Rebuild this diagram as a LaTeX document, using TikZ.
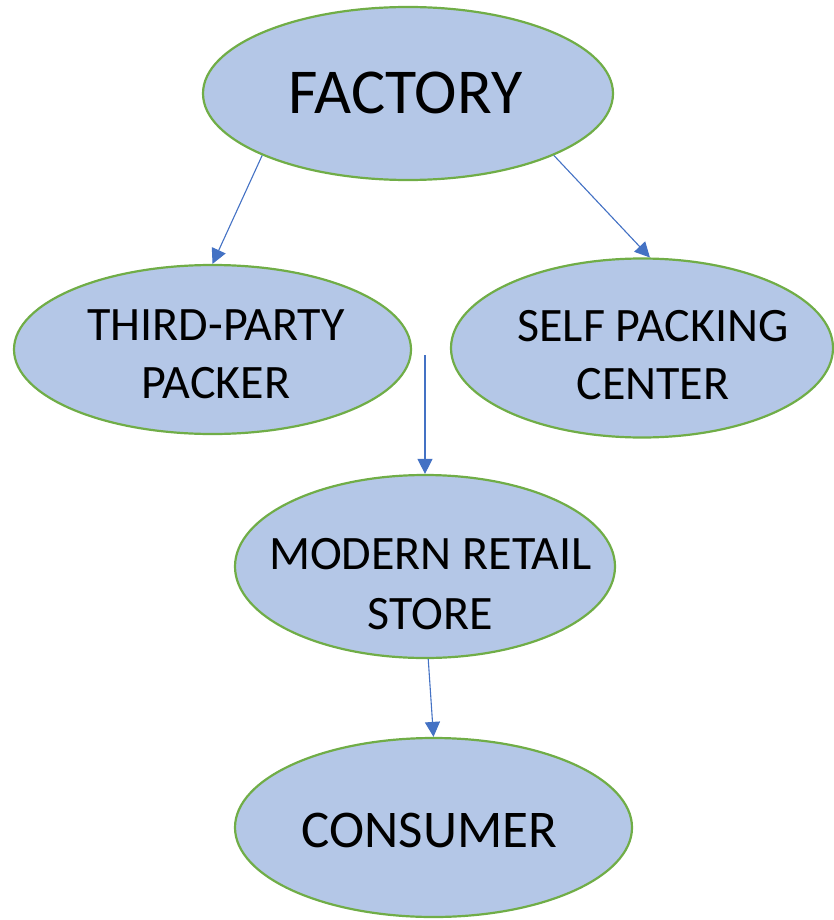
\documentclass[tikz,border=0pt]{standalone}
\usepackage{fontspec}
\setmainfont{Carlito}
\usetikzlibrary{shapes.geometric,arrows.meta}
\definecolor{efill}{HTML}{B4C7E7}
\definecolor{eborder}{HTML}{70AD47}
\definecolor{arrowc}{HTML}{4472C4}
\begin{document}
\begin{tikzpicture}[x=1pt,y=-1pt,
  oval/.style={ellipse,draw=eborder,fill=efill,line width=2.2pt,inner sep=0pt},
  txt/.style={inner sep=0pt,align=center,font=\fontsize{48}{58}\selectfont},
  conn/.style={draw=arrowc,line width=1.1pt,-{Triangle[length=15pt,width=15pt]}}]
\useasboundingbox (0,0) rectangle (833,920);
\node[oval,minimum width=410pt,minimum height=173pt] (factory) at (408,93.5) {};
\node[oval,minimum width=397pt,minimum height=169pt] (third) at (212.5,349.5) {};
\node[oval,minimum width=382pt,minimum height=179pt] (self) at (642,348) {};
\node[oval,minimum width=380pt,minimum height=183pt] (modern) at (425,566.5) {};
\node[oval,minimum width=397pt,minimum height=179pt] (consumer) at (433.5,827.5) {};
\node[txt,font=\fontsize{64}{72}\selectfont] (factoryT) at (405.5,92.5) {FACTORY};
\node[txt] (thirdT) at (216,354) {THIRD-PARTY\\PACKER};
\node[txt] (selfT) at (653,355) {SELF PACKING\\CENTER};
\node[txt,font=\fontsize{48}{60}\selectfont] (modernT) at (430.5,584) {MODERN RETAIL\\STORE};
\node[txt,font=\fontsize{53}{60}\selectfont] (consumerT) at (429.5,830.5) {CONSUMER};
\coordinate (gap) at (425,355);
\draw[conn] (factory.203) -- (third.north);
\draw[conn] (factory.337) -- (self.85);
\draw[conn] (gap) -- (modern.north);
\draw[conn] (modern.-88) -- (consumer.north);
\end{tikzpicture}
\end{document}
